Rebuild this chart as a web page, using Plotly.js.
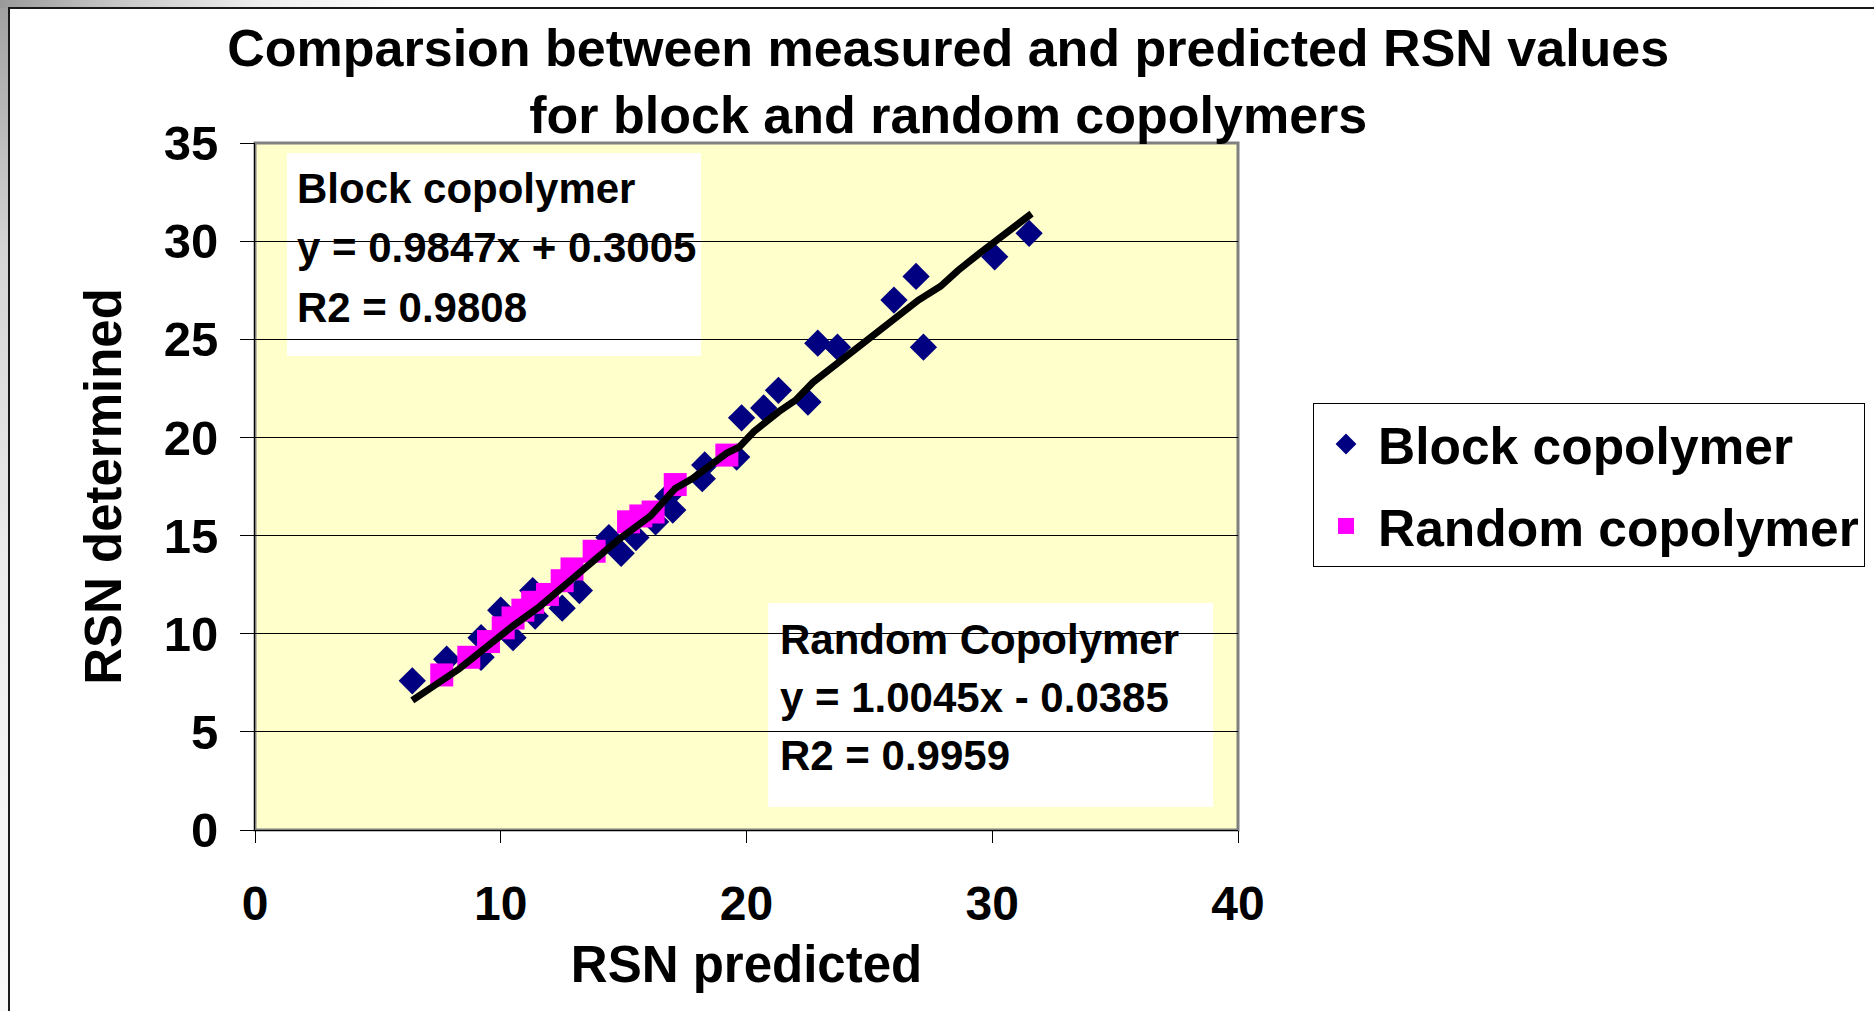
<!DOCTYPE html>
<html>
<head>
<meta charset="utf-8">
<script src="https://cdn.plot.ly/plotly-3.0.1.min.js"></script>
<style>
  html, body { margin:0; padding:0; width:1874px; height:1011px; overflow:hidden; }
  body {
    position:relative;
    background:
      linear-gradient(to right, #9a9a9a 0px, #c8c8c8 120px, #eeeeee 260px, #ffffff 420px) left top / 100% 8px no-repeat,
      linear-gradient(to bottom, #a0a0a0 0px, #d4d4d4 250px, #eeeeee 600px, #f8f8f8 1011px) left top / 8px 100% no-repeat,
      #ffffff;
  }
  #frame { position:absolute; left:8px; top:7px; right:0; bottom:0; background:#ffffff; border-left:2px solid #1a1a1a; border-top:2px solid #1a1a1a; }
  #chart { position:absolute; left:0; top:0; width:1874px; height:1011px; }
</style>
</head>
<body>
<div id="frame"></div>
<div id="chart"></div>
<script>
// ---- data ----
const blockX = [6.4, 7.8, 9.2, 9.2, 10.0, 10.5, 11.3, 11.4, 12.5, 13.2, 14.4, 14.9, 15.5, 16.3, 17.0, 16.8, 18.2, 18.3, 19.6, 19.8, 20.7, 21.3, 22.5, 22.9, 23.7, 26.0, 26.9, 27.2, 30.1, 31.5];
const blockY = [7.6, 8.7, 8.8, 9.8, 11.2, 9.8, 12.2, 10.9, 11.3, 12.2, 14.9, 14.1, 14.9, 15.7, 16.3, 17.0, 17.9, 18.6, 19.0, 21.0, 21.5, 22.4, 21.8, 24.8, 24.6, 27.0, 28.2, 24.6, 29.2, 30.4];

const randomX = [7.6, 8.7, 9.5, 10.1, 10.5, 10.9, 11.3, 11.9, 12.5, 12.9, 13.8, 15.2, 15.7, 16.2, 17.1, 19.2];
const randomY = [7.9, 8.8, 9.6, 10.3, 10.8, 11.2, 11.6, 12.0, 12.7, 13.3, 14.2, 15.7, 16.0, 16.2, 17.6, 19.1];

const fitX = [6.4, 8.3, 10.5, 11.6, 13.2, 14.8, 16.1, 17.1, 17.8, 18.6, 19.2, 19.7, 20.3, 21.3, 22.0, 22.7, 25.3, 27.0, 27.9, 28.6, 29.5, 31.6];
const fitY = [6.6, 8.2, 10.4, 11.4, 13.1, 14.8, 16.0, 17.4, 17.9, 18.6, 19.2, 19.5, 20.3, 21.3, 21.9, 22.8, 25.3, 27.0, 27.7, 28.5, 29.4, 31.4];

const seriesNames = ["Block copolymer", "Random copolymer"];
const titleText = "Comparsion between measured and predicted RSN values<br>for block and random copolymers";
const xTitle = "RSN predicted";
const yTitle = "RSN determined";
const blockLabel = ["Block copolymer", "y = 0.9847x + 0.3005", "R2 = 0.9808"];
const randomLabel = ["Random Copolymer", "y = 1.0045x - 0.0385", "R2 = 0.9959"];

const FONT = "Liberation Sans, Arial, Helvetica, sans-serif";

const traces = [
  { x: blockX, y: blockY, type: "scatter", mode: "markers", name: seriesNames[0], legendgroup: "a",
    marker: { symbol: "diamond", size: 21, color: "#000080" } },
  { x: randomX, y: randomY, type: "scatter", mode: "markers", name: seriesNames[1], legendgroup: "b",
    marker: { symbol: "square", size: 23, color: "#FF00FF" } },
  { x: fitX, y: fitY, type: "scatter", mode: "lines", showlegend: false, hoverinfo: "skip",
    line: { color: "#000000", width: 7 } }
];

const annFont = { family: FONT, size: 42, color: "#000", weight: "bold" };
const annotations = [];
const blockYs = [0.9333, 0.848, 0.7611];
const randomYs = [0.2776, 0.1923, 0.1089];
blockLabel.forEach((t, i) => annotations.push({ text: t, xref: "paper", yref: "paper", x: 0.0407, y: blockYs[i], xanchor: "left", yanchor: "middle", showarrow: false, font: annFont }));
randomLabel.forEach((t, i) => annotations.push({ text: t, xref: "paper", yref: "paper", x: 0.532, y: randomYs[i], xanchor: "left", yanchor: "middle", showarrow: false, font: annFont }));

const layout = {
  width: 1874, height: 1011,
  paper_bgcolor: "rgba(0,0,0,0)",
  plot_bgcolor: "#FFFFCC",
  margin: { l: 255, r: 636, t: 143, b: 181, pad: 0, autoexpand: false },
  font: { family: FONT, color: "#000" },
  title: { text: titleText, xref: "container", yref: "container", x: 0.506, xanchor: "center", y: 0.935, yanchor: "middle",
           font: { family: FONT, size: 52, weight: "bold", color: "#000" } },
  xaxis: { range: [0, 40], dtick: 10, tick0: 0, ticks: "outside", ticklen: 12, tickwidth: 1, tickcolor: "#000",
           showgrid: false, zeroline: false, showline: true, linecolor: "#000", linewidth: 1,
           tickfont: { family: FONT, size: 48, weight: "bold", color: "#000" }, ticklabelstandoff: 19,
           title: { text: xTitle, font: { family: FONT, size: 51, weight: "bold", color: "#000" }, standoff: 17 } },
  yaxis: { range: [0, 35], dtick: 5, tick0: 0, ticks: "outside", ticklen: 14, tickwidth: 1, tickcolor: "#000",
           showgrid: true, gridcolor: "#000", gridwidth: 1, zeroline: false, showline: true, linecolor: "#000", linewidth: 1,
           tickfont: { family: FONT, size: 49, weight: "bold", color: "#000" }, ticklabelstandoff: 12,
           title: { text: yTitle, font: { family: FONT, size: 51, weight: "bold", color: "#000" }, standoff: 25 } },
  legend: { x: 1.0763, y: 0.6215, xanchor: "left", yanchor: "top", bgcolor: "#fff", bordercolor: "#000", borderwidth: 1,
            font: { family: FONT, size: 51.5, weight: "bold", color: "#000" }, traceorder: "grouped", tracegroupgap: 12, itemwidth: 54 },
  shapes: [
    { type: "rect", xref: "paper", yref: "paper", x0: 0, x1: 1, y0: 0, y1: 1, layer: "below", line: { color: "#808080", width: 3 }, fillcolor: "rgba(0,0,0,0)" },
    { type: "rect", xref: "paper", yref: "paper", x0: 0.0326, x1: 0.4537, y0: 0.690, y1: 0.9854, layer: "between", line: { width: 0 }, fillcolor: "#ffffff" },
    { type: "rect", xref: "paper", yref: "paper", x0: 0.522, x1: 0.9746, y0: 0.0335, y1: 0.3304, layer: "between", line: { width: 0 }, fillcolor: "#ffffff" }
  ],
  annotations: annotations,
  showlegend: true
};

Plotly.newPlot("chart", traces, layout, { displayModeBar: false, staticPlot: true });
</script>
</body>
</html>
